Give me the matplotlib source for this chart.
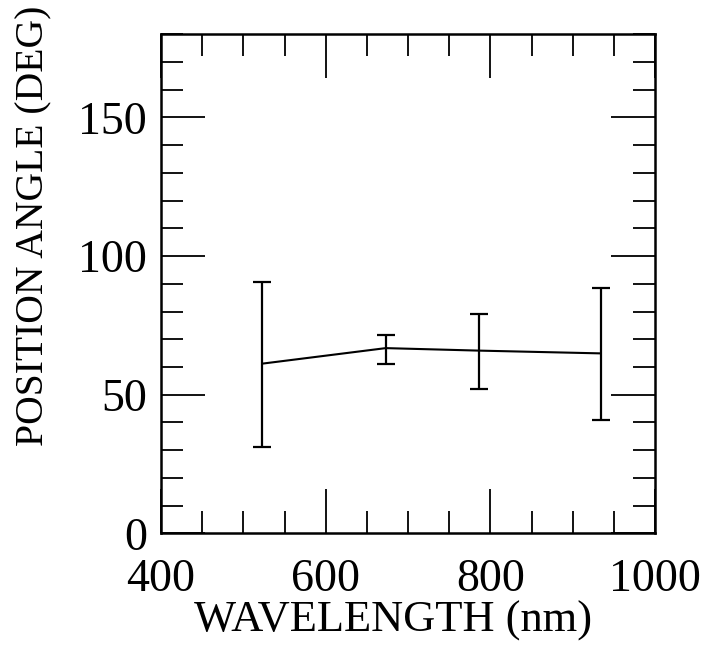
import matplotlib.pyplot as plt
from matplotlib.ticker import MultipleLocator

# values
wavelength = [523, 673, 786, 934]
pos_angle = [61.2, 66.8, 65.9, 64.9]
err_low = [29.9, 5.8, 14.0, 24.2]
err_high = [29.6, 4.6, 13.3, 23.6]

x_ticks = [400, 600, 800, 1000]
y_ticks = [0, 50, 100, 150]

plt.rcParams['font.family'] = ['Liberation Serif', 'DejaVu Serif']

fig = plt.figure(figsize=(7.11, 6.53), dpi=100)
ax = fig.add_axes([161 / 711, 1 - 533.3 / 653, 494 / 711, 499 / 653])

ax.errorbar(wavelength, pos_angle, yerr=[err_low, err_high], color='black',
            lw=1.5, elinewidth=1.6, capsize=6.4, capthick=1.6)

ax.set_xlim(400, 1000)
ax.set_ylim(0, 180)
ax.set_xticks(x_ticks)
ax.set_yticks(y_ticks)
ax.xaxis.set_minor_locator(MultipleLocator(50))
ax.yaxis.set_minor_locator(MultipleLocator(10))

ax.tick_params(which='both', direction='in', top=True, right=True,
               width=1.3, labelsize=33, color='black')
ax.tick_params(which='major', length=32)
ax.tick_params(which='minor', length=16)
ax.tick_params(axis='x', pad=18)
ax.tick_params(axis='y', pad=10)
for s in ax.spines.values():
    s.set_linewidth(1.8)

ax.set_xlabel('WAVELENGTH (nm)', fontsize=32)
ax.set_ylabel('POSITION ANGLE (DEG)', fontsize=28.5)
ax.xaxis.set_label_coords(0.47, -0.135)
ax.yaxis.set_label_coords(-0.22, 0.616)

fig.savefig('out.png', dpi=100)
